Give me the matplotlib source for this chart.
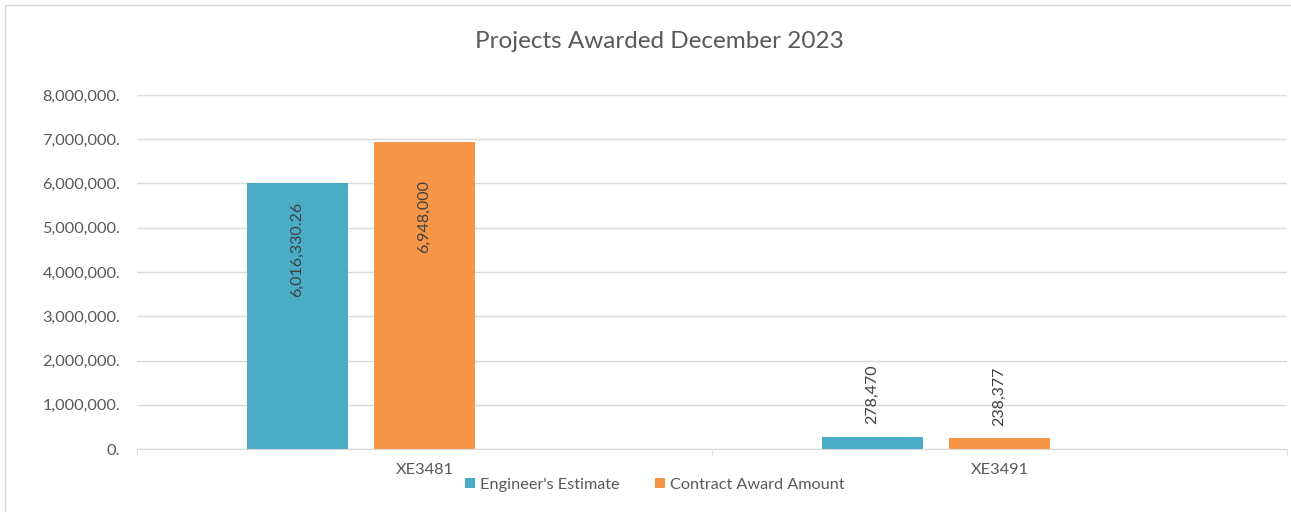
import matplotlib.pyplot as plt
from matplotlib.patches import Rectangle
from matplotlib.ticker import FuncFormatter, FixedLocator

plt.rcParams['font.family'] = ['Lato', 'DejaVu Sans']

projects = ["XE3481", "XE3491"]
engineers_estimate = [6016330.26, 278470]
contract_award = [6948000, 238377]
estimate_labels = ["6,016,330.26", "278,470"]
award_labels = ["6,948,000", "238,377"]

teal = "#4BACC6"
orange = "#F79646"
txt = "#595959"
grid = "#d9d9d9"

fig = plt.figure(figsize=(12.91, 5.12), dpi=100)
ax = fig.add_axes([0.1061, 0.1230, 0.8908, 0.6915])

# three bar slots per project, the third one is left empty
width = 0.1757
step = 0.2209
xs = list(range(len(projects)))
b1 = ax.bar([x - step for x in xs], engineers_estimate, width, color=teal, label="Engineer's Estimate")
b2 = ax.bar(xs, contract_award, width, color=orange, label="Contract Award Amount")

ax.set_xlim(-0.5, len(projects) - 0.5)
ax.set_ylim(0, 8000000)
ax.set_yticks(range(0, 8000001, 1000000))
ax.yaxis.set_major_formatter(FuncFormatter(lambda v, p: f"{v:,.0f}."))
ax.set_xticks(xs)
ax.set_xticklabels(projects)
ax.xaxis.set_minor_locator(FixedLocator([-0.5, 0.5, 1.5]))

ax.grid(axis='y', color=grid, linewidth=1)
ax.set_axisbelow(True)
for s in ['top', 'right', 'left']:
    ax.spines[s].set_visible(False)
ax.spines['bottom'].set_color(grid)
ax.tick_params(axis='y', length=0, pad=12, labelsize=11.8, labelcolor=txt)
ax.tick_params(axis='x', which='major', length=0, pad=10, labelsize=11.8, labelcolor=txt)
ax.tick_params(axis='x', which='minor', length=5, color=grid)

# value labels: inside the top for tall bars, above for short ones
for bars, labels, pads in [(b1, estimate_labels, [-14, 9]), (b2, award_labels, [-28, 9])]:
    for rect, lab, pad in zip(bars, labels, pads):
        cx = rect.get_x() + rect.get_width() / 2
        h = rect.get_height()
        ax.annotate(lab, (cx, h), xytext=(0, pad), textcoords='offset points',
                    rotation=90, ha='center', va='top' if pad < 0 else 'bottom',
                    fontsize=11.5, color='#404040')

fig.suptitle("Projects Awarded December 2023", x=0.511, y=0.94, fontsize=17.5, color=txt)
fig.legend(loc='center', bbox_to_anchor=(0.507, 0.053), ncol=2, frameon=False,
           handlelength=0.6, handleheight=0.6, handletextpad=0.3, columnspacing=2.2,
           fontsize=11.7, labelcolor=txt)

fig.patches.append(Rectangle((5 / 1291, -0.01), 1.0, 1.0 - 4.5 / 512 + 0.01, transform=fig.transFigure,
                             fill=False, edgecolor=grid, linewidth=1))

fig.savefig("out.png", dpi=100)
